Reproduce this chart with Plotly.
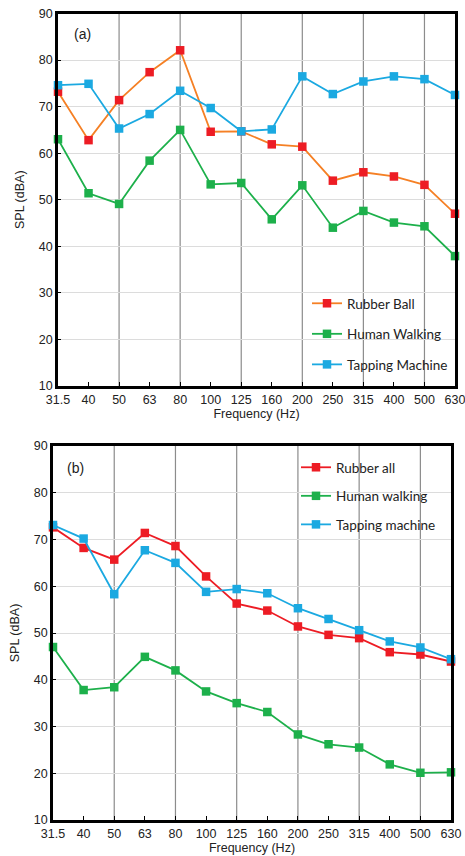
import plotly.graph_objects as go

freqs = ["31.5", "40", "50", "63", "80", "100", "125", "160", "200", "250", "315", "400", "500", "630"]

# Panel (a)
a_rubber_ball = [73.2, 62.8, 71.4, 77.4, 82.1, 64.6, 64.7, 61.9, 61.4, 54.1, 55.9, 55.0, 53.2, 47.0]
a_human_walking = [63.0, 51.4, 49.1, 58.4, 65.0, 53.3, 53.6, 45.8, 53.1, 44.0, 47.6, 45.1, 44.3, 37.9]
a_tapping_machine = [74.6, 74.9, 65.3, 68.4, 73.4, 69.7, 64.7, 65.1, 76.5, 72.7, 75.4, 76.5, 75.9, 72.5]

# Panel (b)
b_rubber_all = [72.6, 68.2, 65.7, 71.4, 68.6, 62.1, 56.3, 54.8, 51.4, 49.6, 48.9, 45.9, 45.4, 43.9]
b_human_walking = [47.0, 37.8, 38.4, 44.9, 42.0, 37.5, 35.0, 33.1, 28.3, 26.2, 25.5, 21.9, 20.1, 20.2]
b_tapping_machine = [73.1, 70.2, 58.3, 67.7, 65.0, 58.8, 59.4, 58.5, 55.3, 53.0, 50.6, 48.2, 46.9, 44.4]

y_ticks = [10, 20, 30, 40, 50, 60, 70, 80, 90]

RED = "#ED1C24"
ORANGE = "#F58025"
GREEN = "#1DB04B"
BLUE = "#1BA9E1"

W, H = 465, 856
idx = list(range(len(freqs)))

fig = go.Figure()

def add(name, ys, line_color, marker_color, xa, ya, legend, group):
    fig.add_trace(go.Scatter(
        x=idx, y=ys, name=name, mode="lines+markers",
        line=dict(color=line_color, width=1.8),
        marker=dict(symbol="square", size=8.5, color=marker_color),
        xaxis=xa, yaxis=ya, legend=legend, legendgroup=group, cliponaxis=False,
    ))

add("Rubber Ball", a_rubber_ball, ORANGE, RED, "x", "y", "legend", "a1")
add("Human Walking", a_human_walking, GREEN, GREEN, "x", "y", "legend", "a2")
add("Tapping Machine", a_tapping_machine, BLUE, BLUE, "x", "y", "legend", "a3")
add("Rubber all", b_rubber_all, RED, RED, "x2", "y2", "legend2", "b1")
add("Human walking", b_human_walking, GREEN, GREEN, "x2", "y2", "legend2", "b2")
add("Tapping machine", b_tapping_machine, BLUE, BLUE, "x2", "y2", "legend2", "b3")

tickfont = dict(family="Liberation Sans, Arial, sans-serif", size=12.5, color="#222")

def xaxis(domain):
    return dict(
        domain=domain, range=[0, len(freqs) - 1], tickmode="array",
        tickvals=idx, ticktext=freqs, ticks="inside", ticklen=4, tickcolor="#000",
        showgrid=False, zeroline=False, showline=True, linecolor="#000", linewidth=2.5,
        mirror=True, tickfont=tickfont, automargin=False, ticklabeloverflow="allow",
        title=dict(text="Frequency (Hz)", font=tickfont, standoff=2),
    )

def yaxis(domain, anchor):
    return dict(
        domain=domain, range=[10, 90], tickmode="array", tickvals=y_ticks,
        ticks="inside", ticklen=3, tickcolor="#000",
        showgrid=True, gridcolor="#DCDCDC", gridwidth=1, zeroline=False,
        showline=True, linecolor="#000", linewidth=2.5, mirror=True,
        tickfont=tickfont, anchor=anchor, automargin=False,
        title=dict(text="SPL (dBA)", font=tickfont, standoff=12),
    )

legfont = dict(family="Lato, Carlito, sans-serif", size=13.5, color="#222")

fig.update_layout(
    width=W, height=H, margin=dict(l=0, r=0, t=0, b=0, autoexpand=False),
    paper_bgcolor="white", plot_bgcolor="white", showlegend=True,
    xaxis=xaxis([58 / W, 455 / W]) | dict(anchor="y"),
    yaxis=yaxis([(H - 386) / H, (H - 13.5) / H], "x"),
    xaxis2=xaxis([53 / W, 451 / W]) | dict(anchor="y2"),
    yaxis2=yaxis([(H - 820) / H, (H - 446) / H], "x2"),
    legend=dict(x=307 / W, y=(H - 288) / H, xanchor="left", yanchor="top",
                bgcolor="rgba(0,0,0,0)", font=legfont, traceorder="grouped",
                tracegroupgap=10, itemwidth=30),
    legend2=dict(x=296 / W, y=(H - 452) / H, xanchor="left", yanchor="top",
                 bgcolor="rgba(0,0,0,0)", font=legfont, traceorder="grouped",
                 tracegroupgap=8, itemwidth=30),
)

# vertical grid lines at every second frequency band
for i in range(2, len(freqs) - 1, 2):
    for xr, yr in (("x", "y"), ("x2", "y2")):
        fig.add_shape(type="line", xref=xr, yref=f"{yr} domain", x0=i, x1=i, y0=0, y1=1,
                      line=dict(color="#8C8C8C", width=1.2), layer="below")

fig.add_annotation(text="(a)", xref="x domain", yref="y domain", x=0.035, y=0.945,
                   xanchor="left", yanchor="middle", showarrow=False,
                   font=dict(family="Liberation Sans, Arial, sans-serif", size=14, color="#222"))
fig.add_annotation(text="(b)", xref="x2 domain", yref="y2 domain", x=0.03, y=0.94,
                   xanchor="left", yanchor="middle", showarrow=False,
                   font=dict(family="Liberation Sans, Arial, sans-serif", size=14, color="#222"))

fig.write_html("out.html", config={"displayModeBar": False},
               post_script="document.body.style.margin='0';document.body.style.overflow='hidden';")
